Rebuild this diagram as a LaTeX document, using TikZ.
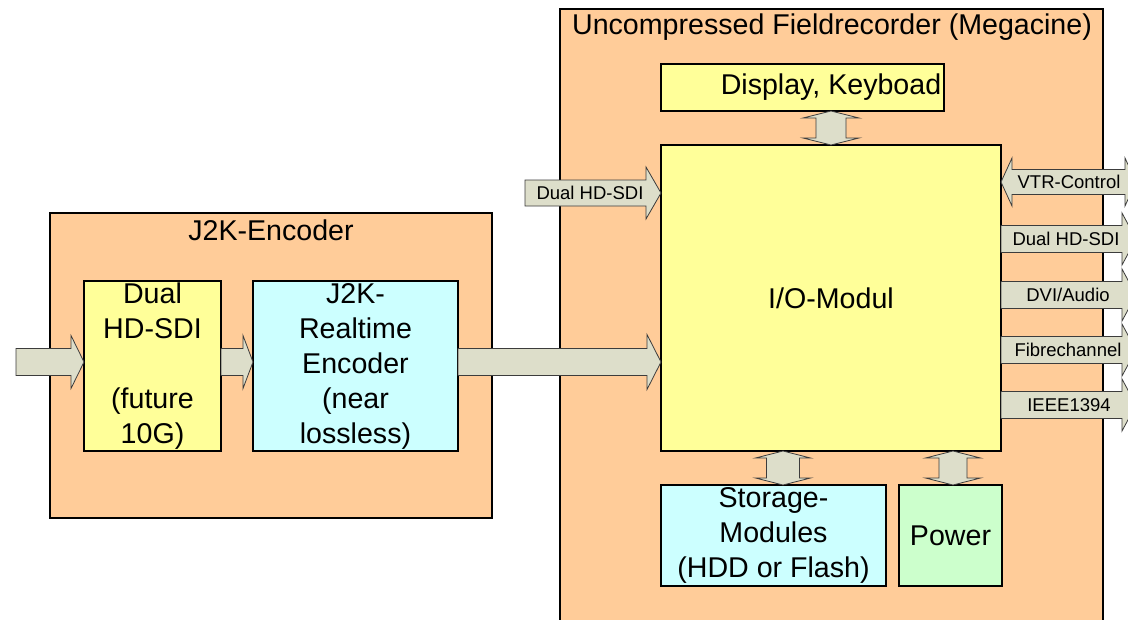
\documentclass[tikz,border=0pt]{standalone}
\usepackage{fontspec}
\setmainfont{Liberation Sans}
\usetikzlibrary{calc}
\definecolor{peach}{RGB}{255,204,153}
\definecolor{lyellow}{RGB}{255,255,153}
\definecolor{lcyan}{RGB}{204,255,255}
\definecolor{lgreen}{RGB}{204,255,204}
\definecolor{arrfill}{RGB}{221,222,202}
\definecolor{arrline}{RGB}{60,60,60}
\newcommand\bigfont{\fontsize{28.6}{35}\selectfont}
\newcommand\smallfont{\fontsize{18.5}{22}\selectfont}
\tikzset{
  blk/.style={draw=black, line width=1.3pt, inner sep=0pt, outer sep=0pt, anchor=north west, align=center, font=\bigfont},
  outerbox/.style={blk, fill=peach},
  ttl/.style={inner sep=0pt, font=\bigfont},
  lbl/.style={inner sep=0pt, font=\smallfont},
  fat/.style={fill=arrfill, draw=arrline, line width=0.8pt, line join=miter}
}
% horizontal single block arrow
\newcommand\harrow[5]{\draw[fat] let \p1=(#1), \p2=(#2) in
  (\x1,{\y1+#3}) -- ({\x2-#5},{\y1+#3}) -- ({\x2-#5},{\y1+#4}) -- (\x2,\y1)
  -- ({\x2-#5},{\y1-#4}) -- ({\x2-#5},{\y1-#3}) -- (\x1,{\y1-#3}) -- cycle;}
% horizontal double block arrow
\newcommand\hdarrow[5]{\draw[fat] let \p1=(#1), \p2=(#2) in
  (\x1,\y1) -- ({\x1+#5},{\y1+#4}) -- ({\x1+#5},{\y1+#3}) -- ({\x2-#5},{\y1+#3})
  -- ({\x2-#5},{\y1+#4}) -- (\x2,\y1) -- ({\x2-#5},{\y1-#4}) -- ({\x2-#5},{\y1-#3})
  -- ({\x1+#5},{\y1-#3}) -- ({\x1+#5},{\y1-#4}) -- cycle;}
% vertical double block arrow (from top point to bottom point)
\newcommand\vdarrow[5]{\draw[fat] let \p1=(#1), \p2=(#2) in
  (\x1,\y1) -- ({\x1+#4},{\y1-#5}) -- ({\x1+#3},{\y1-#5}) -- ({\x1+#3},{\y2+#5})
  -- ({\x1+#4},{\y2+#5}) -- (\x1,\y2) -- ({\x1-#4},{\y2+#5}) -- ({\x1-#3},{\y2+#5})
  -- ({\x1-#3},{\y1-#5}) -- ({\x1-#4},{\y1-#5}) -- cycle;}
\begin{document}
\begin{tikzpicture}[x=1pt,y=-1pt]
\path[use as bounding box] (0,0) rectangle (1128,619);
\clip (0,0) rectangle (1128,619);
\fill[white] (0,0) rectangle (1128,619);

% outer boxes
\node[outerbox, minimum width=442pt, minimum height=305pt] (enc) at (50,213) {};
\node[ttl] (enctitle) at (271,230) {J2K-Encoder};
\node[outerbox, minimum width=543pt, minimum height=700pt] (mega) at (560,9) {};
\node[ttl] (megatitle) at (832,27) {Uncompressed Fieldrecorder (Megacine)};

% inner boxes
\node[blk, fill=lyellow, minimum width=137pt, minimum height=170pt] (dual) at (84,281)
  {Dual\\HD-SDI\\\mbox{}\\(future\\10G)};
\node[blk, fill=lcyan, minimum width=205pt, minimum height=170pt] (j2k) at (253,281)
  {J2K-\\Realtime\\Encoder\\(near\\lossless)};
\node[blk, fill=lyellow, minimum width=283pt, minimum height=47pt] (disp) at (661,64) {};
\node[ttl] (disptxt) at (831,87) {Display, Keyboad};
\node[blk, fill=lyellow, minimum width=340pt, minimum height=306pt] (io) at (661,145) {I/O-Modul};
\node[blk, fill=lcyan, minimum width=225pt, minimum height=101pt] (stor) at (661,485)
  {Storage-\\Modules\\(HDD or Flash)};
\node[blk, fill=lgreen, minimum width=103pt, minimum height=101pt] (pow) at (899,485) {Power};

% helper coordinates
\coordinate (yin) at (0,362);
\coordinate (src) at (16,362);
\coordinate (dsrc) at (525,193);
\coordinate (xs) at (783,0);
\coordinate (xp) at (953,0);
\coordinate (r1) at (1136,182);
\coordinate (r2) at (1136,239);
\coordinate (r3) at (1136,295);
\coordinate (r4) at (1136,350);
\coordinate (r5) at (1136,405);

% block arrows, left part
\harrow{src}{dual.west |- yin}{13.5pt}{26.5pt}{13pt}
\harrow{dual.east |- yin}{j2k.west |- yin}{13.5pt}{26.5pt}{10pt}
\harrow{j2k.east |- yin}{io.west |- yin}{13.5pt}{27.5pt}{14pt}
\harrow{dsrc}{io.west |- dsrc}{13pt}{26pt}{15pt}
\node[lbl] (lin) at (590,193) {Dual HD-SDI};

% vertical double arrows
\vdarrow{io.north |- disp.south}{io.north}{15pt}{28pt}{7pt}
\vdarrow{xs |- io.south}{xs |- stor.north}{16.5pt}{27.5pt}{7pt}
\vdarrow{xp |- io.south}{xp |- pow.north}{14pt}{27.5pt}{7pt}

% right side arrows
\hdarrow{io.east |- r1}{r1}{12.5pt}{24pt}{11pt}
\harrow{io.east |- r2}{r2}{13.5pt}{26pt}{14pt}
\harrow{io.east |- r3}{r3}{13.5pt}{26pt}{14pt}
\harrow{io.east |- r4}{r4}{13.5pt}{26pt}{14pt}
\harrow{io.east |- r5}{r5}{13.5pt}{26pt}{14pt}
\node[lbl] (l1) at (1069,182) {VTR-Control};
\node[lbl] (l2) at (1066,239) {Dual HD-SDI};
\node[lbl] (l3) at (1068,295) {DVI/Audio};
\node[lbl] (l4) at (1068,350) {Fibrechannel};
\node[lbl] (l5) at (1069,405) {IEEE1394};
\end{tikzpicture}
\end{document}
